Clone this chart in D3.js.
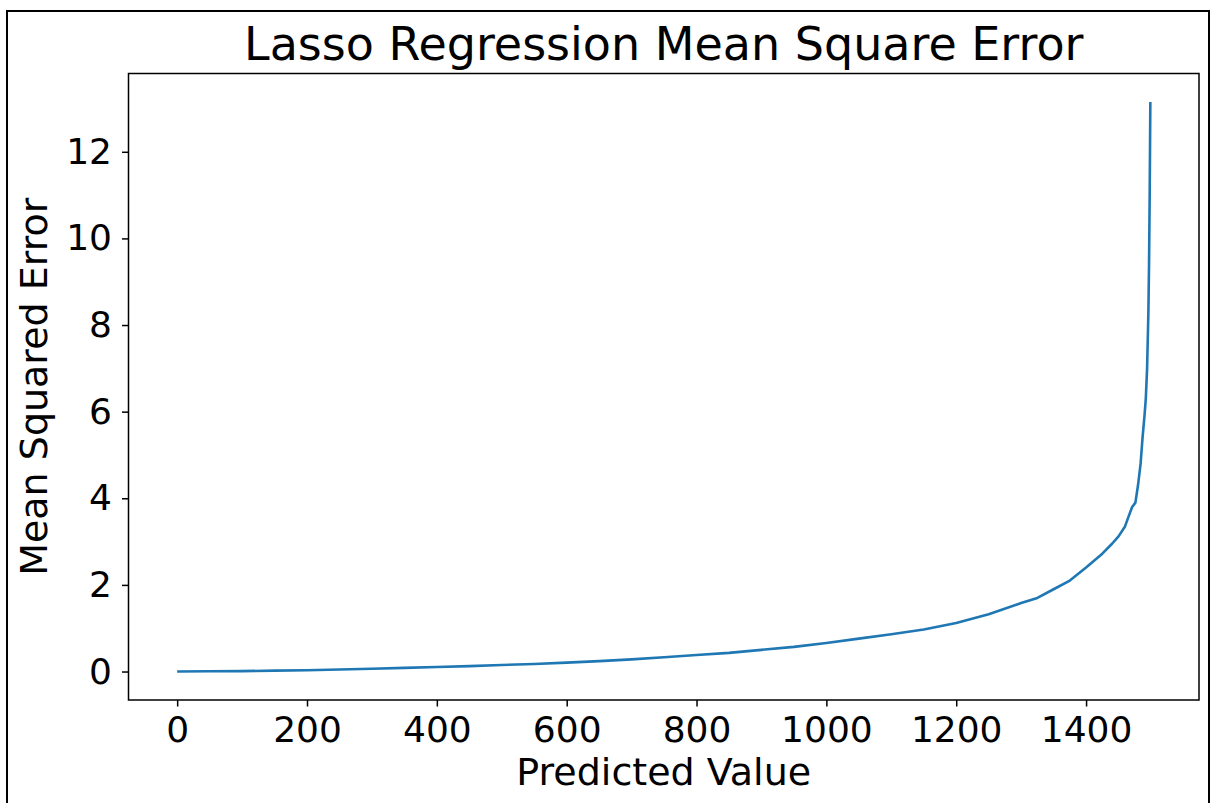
<!DOCTYPE html>
<html>
<head>
<meta charset="utf-8">
<script src="https://cdn.jsdelivr.net/npm/d3@7"></script>
<style>
  html, body { margin: 0; padding: 0; background: #fff; }
  svg { display: block; }
  text { font-family: "DejaVu Sans", sans-serif; fill: #000; }
</style>
</head>
<body>
<svg id="chart" width="1211" height="803"></svg>
<script>
// Sample index of the sorted predictions and the squared error at that index
const sampleIndex = [0, 50, 100, 150, 200, 250, 300, 350, 400, 450, 500, 550, 600, 650, 700, 750, 800, 850, 900, 950,
  1000, 1050, 1100, 1150, 1200, 1250, 1300, 1325, 1350, 1375, 1400, 1425, 1440, 1450, 1460, 1466, 1471, 1476, 1480,
  1484, 1487, 1490, 1492, 1494, 1496, 1497, 1498, 1499];
const squaredError = [0.00, 0.005, 0.01, 0.02, 0.03, 0.045, 0.065, 0.085, 0.105, 0.125, 0.15, 0.175, 0.205, 0.24, 0.28, 0.33, 0.38, 0.43, 0.50, 0.57,
  0.66, 0.76, 0.86, 0.97, 1.12, 1.32, 1.58, 1.70, 1.90, 2.10, 2.40, 2.72, 2.95, 3.12, 3.35, 3.60, 3.80, 3.90, 4.30,
  4.80, 5.40, 5.90, 6.30, 7.00, 8.30, 9.40, 11.0, 13.15];

const xTicks = [0, 200, 400, 600, 800, 1000, 1200, 1400];
const yTicks = [0, 2, 4, 6, 8, 10, 12];

const titleText = "Lasso Regression Mean Square Error";
const xLabel = "Predicted Value";
const yLabel = "Mean Squared Error";

const points = sampleIndex.map((d, i) => ({ x: d, y: squaredError[i] }));

const svg = d3.select("#chart");
const plot = { left: 128.5, top: 73.5, right: 1199, bottom: 700 };

// Outer frame around the figure
svg.append("rect")
  .attr("x", 7).attr("y", 11)
  .attr("width", 1202).attr("height", 820)
  .attr("fill", "none").attr("stroke", "#000").attr("stroke-width", 2);

// 5% padding on both axes, matplotlib-style
const pad = (ext) => { const r = ext[1] - ext[0]; return [ext[0] - 0.05 * r, ext[1] + 0.05 * r]; };
const x = d3.scaleLinear().domain(pad(d3.extent(points, d => d.x))).range([plot.left, plot.right]);
const y = d3.scaleLinear().domain(pad(d3.extent(points, d => d.y))).range([plot.bottom, plot.top]);

// Curve
svg.append("path")
  .datum(points)
  .attr("fill", "none")
  .attr("stroke", "#1f77b4")
  .attr("stroke-width", 2.6)
  .attr("stroke-linejoin", "round")
  .attr("stroke-linecap", "butt")
  .attr("d", d3.line().x(d => x(d.x)).y(d => y(d.y)));

// Axes
const xAxis = svg.append("g")
  .attr("transform", `translate(0,${plot.bottom})`)
  .call(d3.axisBottom(x).tickValues(xTicks).tickSize(6.5).tickPadding(10).tickFormat(d3.format("d")));
const yAxis = svg.append("g")
  .attr("transform", `translate(${plot.left},0)`)
  .call(d3.axisLeft(y).tickValues(yTicks).tickSize(6.5).tickPadding(10).tickFormat(d3.format("d")));

[xAxis, yAxis].forEach(g => {
  g.select(".domain").remove();
  g.selectAll(".tick line").attr("stroke", "#000").attr("stroke-width", 1.5);
  g.selectAll(".tick text").attr("font-size", 36).attr("font-family", "DejaVu Sans").attr("fill", "#000");
});

// Plot frame (all four spines)
svg.append("rect")
  .attr("x", plot.left).attr("y", plot.top)
  .attr("width", plot.right - plot.left).attr("height", plot.bottom - plot.top)
  .attr("fill", "none").attr("stroke", "#000").attr("stroke-width", 1.5);

// Title and axis labels
svg.append("text")
  .attr("x", (plot.left + plot.right) / 2).attr("y", 60)
  .attr("text-anchor", "middle").attr("font-size", 46)
  .text(titleText);

svg.append("text")
  .attr("x", (plot.left + plot.right) / 2).attr("y", 785)
  .attr("text-anchor", "middle").attr("font-size", 38)
  .text(xLabel);

svg.append("text")
  .attr("transform", `translate(47,${(plot.top + plot.bottom) / 2}) rotate(-90)`)
  .attr("text-anchor", "middle").attr("font-size", 38)
  .text(yLabel);
</script>
</body>
</html>
